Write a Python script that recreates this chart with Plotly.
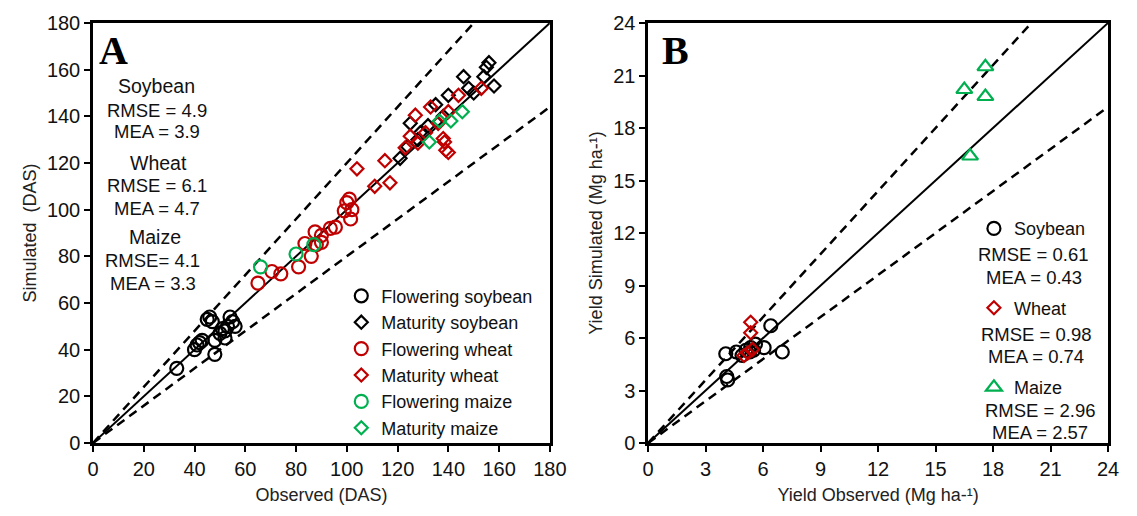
import plotly.graph_objects as go

# ---------------- Panel A: phenology (days after sowing) ----------------
flow_soy_obs = [33, 40, 41, 42, 43, 45, 46, 47, 48, 48, 50, 51, 52, 52, 53, 54, 55, 56]
flow_soy_sim = [32, 40, 42, 43, 44, 53, 54, 52, 38, 44, 47, 49, 48, 45, 50, 54, 52, 50]

mat_soy_obs = [121, 124, 125, 128, 129, 132, 135, 138, 140, 146, 148, 150, 154, 155, 156, 158]
mat_soy_sim = [122, 127, 137, 130, 133, 136, 145, 140, 149, 157, 152, 150, 157, 161, 163, 153]

flow_wht_obs = [65, 70.5, 74, 81, 83.5, 86, 87.5, 88, 90, 90, 93.5, 95.5, 99, 100, 101, 102, 101.5]
flow_wht_sim = [68.5, 73.5, 72.5, 75.5, 85.5, 80, 90.5, 85, 86, 89, 92, 92.5, 99.5, 103, 104.5, 100, 96]

mat_wht_obs = [104, 111, 115, 117, 123, 125, 127, 128, 131, 133, 136, 138, 138.5, 139, 140, 140, 144, 153]
mat_wht_sim = [117.5, 110, 121, 111.5, 126.5, 131.5, 140.5, 128.5, 133, 144, 137, 130.5, 129, 125.5, 124.5, 142, 149, 152]

flow_mz_obs = [66, 80, 87]
flow_mz_sim = [75.5, 81, 85]

mat_mz_obs = [132.5, 136.5, 141, 145.5]
mat_mz_sim = [129, 138, 138, 142]

# ---------------- Panel B: yield (Mg ha-1) ----------------
soy_yld_obs = [4.1, 4.15, 4.05, 4.6, 4.9, 5.1, 5.35, 5.6, 6.05, 6.4, 7.0, 5.3, 5.5]
soy_yld_sim = [3.8, 3.6, 5.1, 5.2, 5.0, 5.3, 5.45, 5.65, 5.45, 6.7, 5.2, 5.2, 5.3]

wht_yld_obs = [5.35, 5.35, 5.0, 5.45, 5.2]
wht_yld_sim = [6.9, 6.3, 5.0, 5.35, 5.15]

mz_yld_obs = [17.6, 16.5, 17.6, 16.8]
mz_yld_sim = [21.5, 20.2, 19.8, 16.4]

# axis ranges and tick values
a_max, a_step = 180, 20
b_max, b_step = 24, 3
band_slopes = [0.8, 1.2]  # +/- 20 % envelope around 1:1

BLACK = "#000000"
RED = "#C00000"
GREEN = "#00B050"
FONT = "Arial, Liberation Sans, sans-serif"

fig = go.Figure()


def ref_lines(xa, ya, vmax):
    # 1:1 line
    fig.add_trace(go.Scatter(x=[0, vmax], y=[0, vmax], mode="lines",
                             line=dict(color=BLACK, width=2),
                             xaxis=xa, yaxis=ya, showlegend=False, hoverinfo="skip"))
    # +/- envelope, clipped to the square plot area
    for s in band_slopes:
        xe = min(vmax, vmax / s)
        fig.add_trace(go.Scatter(x=[0, xe], y=[0, s * xe], mode="lines",
                                 line=dict(color=BLACK, width=2.5, dash="9px,6px"),
                                 xaxis=xa, yaxis=ya, showlegend=False, hoverinfo="skip"))


ref_lines("x", "y", a_max)
ref_lines("x2", "y2", b_max)


def pts(x, y, name, symbol, color, size, xa="x", ya="y", legend="legend", group=None):
    fig.add_trace(go.Scatter(
        x=x, y=y, mode="markers", name=name,
        marker=dict(symbol=symbol, size=size, color=color, line=dict(width=2.2)),
        xaxis=xa, yaxis=ya, legend=legend,
        legendgroup=group if group else name,
        cliponaxis=False))


pts(flow_soy_obs, flow_soy_sim, "Flowering soybean", "circle-open", BLACK, 13)
pts(mat_soy_obs, mat_soy_sim, "Maturity soybean", "diamond-open", BLACK, 10)
pts(flow_wht_obs, flow_wht_sim, "Flowering wheat", "circle-open", RED, 13)
pts(mat_wht_obs, mat_wht_sim, "Maturity wheat", "diamond-open", RED, 10)
pts(flow_mz_obs, flow_mz_sim, "Flowering maize", "circle-open", GREEN, 13)
pts(mat_mz_obs, mat_mz_sim, "Maturity maize", "diamond-open", GREEN, 10)

pts(soy_yld_obs, soy_yld_sim, "Soybean", "circle-open", BLACK, 13, "x2", "y2", "legend2", "b_soy")
pts(wht_yld_obs, wht_yld_sim, "Wheat", "diamond-open", RED, 10, "x2", "y2", "legend2", "b_wht")
pts(mz_yld_obs, mz_yld_sim, "Maize", "triangle-up-open", GREEN, 14, "x2", "y2", "legend2", "b_mz")

# figure geometry (pixels)
W, H = 1137, 516
L, R, T, B = 93, 22, 19, 73
PW, PH = W - L - R, H - T - B


def px(xpix):
    return (xpix - L) / PW


def py(ypix):
    return (H - B - ypix) / PH


axis_common = dict(
    showline=True, mirror=True, linecolor=BLACK, linewidth=2.5,
    ticks="outside", ticklen=6, tickwidth=2, tickcolor=BLACK,
    showgrid=False, zeroline=False,
    tickfont=dict(family=FONT, size=20, color="#111"),
    title_font=dict(family=FONT, size=18, color="#222"),
)

a_ticks = list(range(0, a_max + 1, a_step))
b_ticks = list(range(0, b_max + 1, b_step))

fig.update_layout(
    width=W, height=H,
    margin=dict(l=L, r=R, t=T, b=B),
    paper_bgcolor="white", plot_bgcolor="white",
    font=dict(family=FONT, size=18, color="#111"),
    xaxis=dict(axis_common, domain=[0, px(553)], range=[0, a_max],
               tickvals=a_ticks, title=dict(text="Observed (DAS)", standoff=10)),
    yaxis=dict(axis_common, domain=[0, 1], range=[0, a_max],
               tickvals=a_ticks, title=dict(text="Simulated  (DAS)", standoff=6)),
    xaxis2=dict(axis_common, domain=[px(652), 1], range=[0, b_max], anchor="y2",
                tickvals=b_ticks, title=dict(text="Yield Observed (Mg ha-¹)", standoff=10)),
    yaxis2=dict(axis_common, domain=[0, 1], range=[0, b_max], anchor="x2",
                tickvals=b_ticks, title=dict(text="Yield Simulated (Mg ha-¹)", standoff=6)),
    legend=dict(x=px(343), y=py(276), xanchor="left", yanchor="top",
                bgcolor="rgba(0,0,0,0)", font=dict(family=FONT, size=18, color="#111"),
                tracegroupgap=0, itemsizing="trace"),
    legend2=dict(x=px(980), y=py(208), xanchor="left", yanchor="top",
                 bgcolor="rgba(0,0,0,0)", font=dict(family=FONT, size=18, color="#111"),
                 tracegroupgap=53, itemsizing="trace"),
)

# panel letters
for letter, xpix in [("A", 114), ("B", 680)]:
    fig.add_annotation(text="<b>" + letter + "</b>", x=px(xpix), y=py(47),
                       xref="paper", yref="paper", xanchor="center", yanchor="middle",
                       showarrow=False,
                       font=dict(family="Liberation Serif, Times New Roman, serif", size=40, color=BLACK))

# goodness-of-fit statistics
stats_text = [
    ("Soybean", 157, 83, 19.5), ("RMSE = 4.9", 157, 107, 18.5), ("MEA = 3.9", 157, 129, 18.5),
    ("Wheat", 159, 160, 19.5), ("RMSE = 6.1", 157, 183, 18.5), ("MEA = 4.7", 157, 206, 18.5),
    ("Maize", 155, 235, 19.5), ("RMSE= 4.1", 153, 259, 18.5), ("MEA = 3.3", 153, 282, 18.5),
    ("RMSE = 0.61", 1040, 253, 18.5), ("MEA = 0.43", 1040, 276, 18.5),
    ("RMSE = 0.98", 1043, 333, 18.5), ("MEA = 0.74", 1043, 356, 18.5),
    ("RMSE = 2.96", 1047, 410, 18.5), ("MEA = 2.57", 1047, 432, 18.5),
]
for txt, xpix, ypix, fs in stats_text:
    fig.add_annotation(text=txt, x=px(xpix), y=py(ypix), xref="paper", yref="paper",
                       xanchor="center", yanchor="middle",
                       showarrow=False, font=dict(family=FONT, size=fs, color="#111"))

fig.write_html("out.html")
